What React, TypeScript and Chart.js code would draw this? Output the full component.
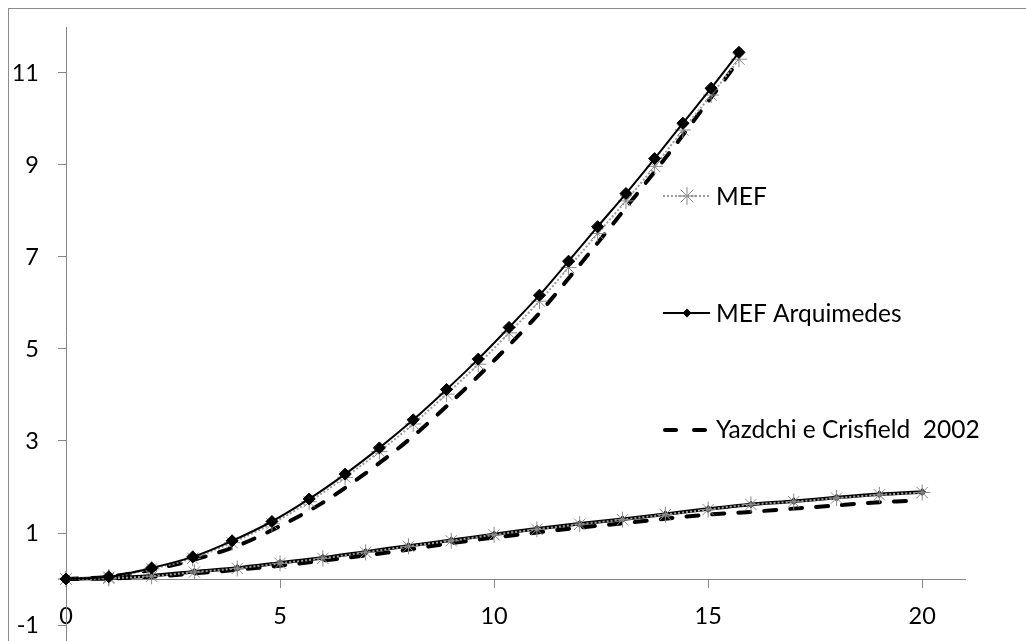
import React, { useEffect, useRef } from 'react';
import { Chart, registerables } from 'chart.js';

Chart.register(...registerables);

// ---- data ----
const xTicks = [0, 5, 10, 15, 20];
const yTicks = [-1, 1, 3, 5, 7, 9, 11];
const legendLabels = ['MEF', 'MEF Arquimedes', 'Yazdchi e Crisfield  2002'];

// upper branch (MEF / MEF Arquimedes)
const upperX = [0, 1.0, 2.0, 2.96, 3.88, 4.81, 5.68, 6.52, 7.32, 8.11, 8.89, 9.63, 10.35, 11.06, 11.74, 12.42, 13.08, 13.75, 14.41, 15.07, 15.72];
const arqUpperY = [0, 0.05, 0.24, 0.48, 0.83, 1.25, 1.74, 2.28, 2.85, 3.46, 4.12, 4.78, 5.47, 6.17, 6.91, 7.66, 8.38, 9.14, 9.91, 10.67, 11.45];
const mefUpperY = [0, 0.04, 0.22, 0.45, 0.79, 1.2, 1.68, 2.21, 2.77, 3.37, 4.02, 4.67, 5.35, 6.04, 6.77, 7.51, 8.22, 8.97, 9.76, 10.52, 11.3];

// lower branch (MEF / MEF Arquimedes)
const lowerX = [0, 1, 2, 3, 4, 5, 6, 7, 8, 9, 10, 11, 12, 13, 14, 15, 16, 17, 18, 19, 20];
const mefLowerY = [0, 0.015, 0.06, 0.15, 0.23, 0.34, 0.45, 0.58, 0.71, 0.83, 0.96, 1.08, 1.19, 1.29, 1.4, 1.51, 1.62, 1.68, 1.76, 1.83, 1.88];
const arqLowerY = [0, 0.02, 0.07, 0.16, 0.24, 0.35, 0.46, 0.59, 0.72, 0.84, 0.97, 1.09, 1.2, 1.3, 1.41, 1.52, 1.62, 1.69, 1.77, 1.84, 1.89];

// Yazdchi e Crisfield 2002
const yazUpperX = [0, 1, 2, 3, 4, 5, 6, 7, 8, 9, 10, 11, 12, 13, 14, 15, 15.7];
const yazUpperY = [0, 0.05, 0.2, 0.42, 0.72, 1.15, 1.66, 2.3, 3.02, 3.85, 4.75, 5.72, 6.83, 7.98, 9.15, 10.38, 11.25];
const yazLowerX = [0, 1, 2, 3, 4, 5, 6, 7, 8, 9, 10, 11, 12, 13, 14, 15, 16, 17, 18, 19, 19.8];
const yazLowerY = [0, 0.01, 0.05, 0.12, 0.2, 0.29, 0.4, 0.51, 0.64, 0.78, 0.9, 1.01, 1.12, 1.21, 1.31, 1.4, 1.46, 1.53, 1.6, 1.67, 1.7];

const pts = (xs: number[], ys: number[]) => xs.map((x, i) => ({ x, y: ys[i] }));

const FONT = 'Lato';
const AXIS = '#868686';
const GRAY = '#8a8a8a';
const DOT = '#9c9c9c';

function drawStar(ctx: CanvasRenderingContext2D, x: number, y: number, r: number) {
  ctx.beginPath();
  for (let k = 0; k < 4; k++) {
    const a = (k * Math.PI) / 4;
    ctx.moveTo(x - Math.cos(a) * r, y - Math.sin(a) * r);
    ctx.lineTo(x + Math.cos(a) * r, y + Math.sin(a) * r);
  }
  ctx.stroke();
}

const legendPlugin = {
  id: 'customLegend',
  afterDraw(chart: any) {
    const ctx: CanvasRenderingContext2D = chart.ctx;
    const o = 9; // page -> canvas offset
    ctx.save();
    ctx.font = `24.5px ${FONT}`;
    ctx.textBaseline = 'alphabetic';
    ctx.fillStyle = '#000';
    const x0 = 663 - o, x1 = 710 - o, tx = 716 - o;
    // MEF
    let y = 196 - o;
    ctx.strokeStyle = DOT;
    ctx.lineWidth = 2;
    ctx.setLineDash([2, 2]);
    ctx.beginPath(); ctx.moveTo(x0, y); ctx.lineTo(x1, y); ctx.stroke();
    ctx.setLineDash([]);
    ctx.strokeStyle = GRAY;
    ctx.lineWidth = 1;
    drawStar(ctx, 687 - o, y, 9);
    ctx.fillText(legendLabels[0], tx, 205 - o);
    // MEF Arquimedes
    y = 313 - o;
    ctx.strokeStyle = '#000';
    ctx.lineWidth = 2;
    ctx.beginPath(); ctx.moveTo(x0, y); ctx.lineTo(x1, y); ctx.stroke();
    ctx.beginPath();
    const r = 4.5, cx = 687 - o;
    ctx.moveTo(cx, y - r); ctx.lineTo(cx + r, y); ctx.lineTo(cx, y + r); ctx.lineTo(cx - r, y); ctx.closePath();
    ctx.fill();
    ctx.fillText(legendLabels[1], tx, 322 - o);
    // Yazdchi
    y = 430 - o;
    ctx.lineWidth = 4;
    ctx.lineCap = 'round';
    ctx.beginPath(); ctx.moveTo(665 - o, y); ctx.lineTo(676 - o, y); ctx.stroke();
    ctx.beginPath(); ctx.moveTo(694 - o, y); ctx.lineTo(705 - o, y); ctx.stroke();
    ctx.fillText(legendLabels[2], tx, 438 - o);
    ctx.restore();
  },
};

export default function App() {
  const ref = useRef<HTMLCanvasElement>(null);
  useEffect(() => {
    if (!ref.current) return;
    const font = { family: FONT, size: 23.5 };
    const chart = new Chart(ref.current, {
      type: 'line',
      data: {
        datasets: [
          {
            label: 'MEF Arquimedes', data: pts(upperX, arqUpperY), borderColor: '#000', borderWidth: 2,
            pointStyle: 'rectRot', pointRadius: 6, pointBackgroundColor: '#000', pointBorderColor: '#000', pointBorderWidth: 1,
            tension: 0.3, clip: false,
          },
          {
            label: 'MEF', data: pts(upperX, mefUpperY), borderColor: DOT, borderWidth: 2, borderDash: [2, 2],
            pointStyle: 'star', pointRadius: 8, pointBorderColor: GRAY, pointBackgroundColor: GRAY, pointBorderWidth: 1,
            tension: 0.3, clip: false,
          },
          {
            label: 'MEF lower', data: pts(lowerX, mefLowerY), borderColor: DOT, borderWidth: 2, borderDash: [2, 2],
            pointStyle: 'star', pointRadius: 8, pointBorderColor: GRAY, pointBackgroundColor: GRAY, pointBorderWidth: 1,
            tension: 0.3, clip: false,
          },
          {
            label: 'MEF Arquimedes lower', data: pts(lowerX, arqLowerY), borderColor: '#000', borderWidth: 3.5,
            pointStyle: 'rectRot', pointRadius: 3.5, pointBackgroundColor: '#333', pointBorderColor: '#333', pointBorderWidth: 1,
            tension: 0.3, clip: false,
          },
          {
            label: 'Yazdchi upper', data: pts(yazUpperX, yazUpperY), borderColor: '#000', borderWidth: 4,
            borderDash: [12, 14], borderCapStyle: 'round', pointRadius: 0, tension: 0.3, clip: false,
          },
          {
            label: 'Yazdchi lower', data: pts(yazLowerX, yazLowerY), borderColor: '#000', borderWidth: 4,
            borderDash: [12, 14], borderCapStyle: 'round', pointRadius: 0, tension: 0.3, clip: false,
          },
        ] as any,
      },
      options: {
        animation: false,
        responsive: false,
        events: [],
        layout: { padding: { left: 0, top: 18, right: 61, bottom: 19.6 } },
        plugins: { legend: { display: false }, tooltip: { enabled: false } },
        scales: {
          x: {
            type: 'linear', min: 0, max: 21, position: { y: 0 } as any,
            afterBuildTicks: (s: any) => { s.ticks = xTicks.map((v) => ({ value: v })); },
            afterFit: (s: any) => { s.height = 0; s.paddingTop = 0; s.paddingBottom = 0; },
            grid: { drawOnChartArea: false, drawTicks: true, tickLength: 8, color: AXIS },
            border: { display: true, color: AXIS, width: 1 },
            ticks: { font, color: '#000', padding: 15, maxRotation: 0, autoSkip: false, callback: (v: any) => String(v) },
          },
          y: {
            type: 'linear', min: -1.4, max: 12,
            afterBuildTicks: (s: any) => { s.ticks = yTicks.map((v) => ({ value: v })); },
            afterFit: (s: any) => { s.width = 57; s.paddingTop = 0; s.paddingBottom = 0; },
            grid: { drawOnChartArea: false, drawTicks: true, tickLength: 8, color: AXIS },
            border: { display: true, color: AXIS, width: 1 },
            ticks: { font, color: '#000', padding: 19, autoSkip: false, callback: (v: any) => String(v) },
          },
        },
      } as any,
      plugins: [legendPlugin],
    });
    return () => chart.destroy();
  }, []);
  return (
    <div
      style={{
        position: 'fixed', left: 8, top: 8, width: 1100, height: 700,
        borderLeft: '1px solid #8c8c8c', borderTop: '1px solid #8c8c8c', background: '#fff',
      }}
    >
      <canvas ref={ref} width={1017} height={654} style={{ display: 'block', width: 1017, height: 654 }} />
    </div>
  );
}
